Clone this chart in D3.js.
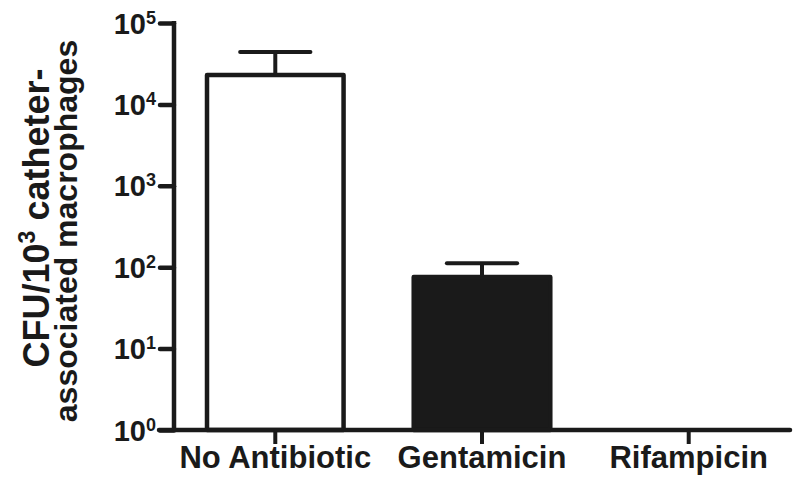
<!DOCTYPE html>
<html>
<head>
<meta charset="utf-8">
<script src="https://cdn.jsdelivr.net/npm/d3@7"></script>
<style>
  body { margin: 0; background: #fff; }
  text { font-family: "Liberation Sans", Arial, sans-serif; font-weight: bold; fill: #1a1a1a; }
</style>
</head>
<body>
<div id="chart"></div>
<script>
// CFU per 10^3 catheter-associated macrophages, by treatment
const categories = ["No Antibiotic", "Gentamicin", "Rifampicin"];
const means      = [23000, 76, 0];
const sems       = [21000, 36, 0];   // upper error bar only
const fills      = ["#ffffff", "#1a1a1a", "#1a1a1a"];
const yTicks     = [0, 1, 2, 3, 4, 5]; // exponents of 10

const width = 800, height = 485;
const ink = "#1a1a1a";

const svg = d3.select("#chart").append("svg")
  .attr("width", width)
  .attr("height", height);

const x = d3.scaleBand()
  .domain(categories)
  .range([174, 790])
  .paddingInner(0.32)
  .paddingOuter(0.15);

const y = d3.scaleLog()
  .domain([1, 1e5])
  .range([430, 23]);

// ── Bars (skip zero values, they sit below the log floor) ──
categories.forEach((c, i) => {
  if (means[i] <= 1) return;
  const bx = x(c) + 2, bw = x.bandwidth() - 4;
  svg.append("rect")
    .attr("x", bx)
    .attr("y", y(means[i]))
    .attr("width", bw)
    .attr("height", y(1) - y(means[i]))
    .attr("fill", fills[i])
    .attr("stroke", ink)
    .attr("stroke-width", 4.5)
    .attr("stroke-linejoin", "round");

  // error bar (upper only)
  const cx = x(c) + x.bandwidth() / 2;
  const top = y(means[i] + sems[i]);
  svg.append("line")
    .attr("x1", cx).attr("x2", cx)
    .attr("y1", y(means[i])).attr("y2", top)
    .attr("stroke", ink).attr("stroke-width", 4);
  svg.append("line")
    .attr("x1", cx - x.bandwidth() / 4).attr("x2", cx + x.bandwidth() / 4)
    .attr("y1", top).attr("y2", top)
    .attr("stroke", ink).attr("stroke-width", 4)
    .attr("stroke-linecap", "round");
});

// ── Y axis ──
const yAxis = d3.axisLeft(y)
  .tickValues(yTicks.map(e => Math.pow(10, e)))
  .tickSize(14)
  .tickPadding(4)
  .tickFormat("");

const gy = svg.append("g")
  .attr("transform", "translate(174,0)")
  .call(yAxis);
gy.select(".domain").remove();
gy.selectAll(".tick line").attr("stroke", ink).attr("stroke-width", 4.5)
  .attr("stroke-linecap", "round");
gy.append("line")
  .attr("x1", 0).attr("x2", 0)
  .attr("y1", y(1e5) - 2).attr("y2", y(1))
  .attr("stroke", ink).attr("stroke-width", 4.5);

// tick labels 10^n
gy.selectAll(".tick").each(function(d) {
  const t = d3.select(this).append("text")
    .attr("x", -18)
    .attr("y", 10)
    .attr("text-anchor", "end")
    .style("font-size", "29px");
  t.append("tspan").text("10");
  t.append("tspan")
    .attr("dy", -10)
    .style("font-size", "18px")
    .text(Math.round(Math.log10(d)));
});

// ── X axis ──
const xAxis = d3.axisBottom(x).tickSize(14).tickPadding(8);
const gx = svg.append("g")
  .attr("transform", "translate(0,430)")
  .call(xAxis);
gx.select(".domain").remove();
gx.append("line")
  .attr("x1", 159).attr("x2", 790)
  .attr("stroke", ink).attr("stroke-width", 4.5)
  .attr("stroke-linecap", "round");
gx.selectAll(".tick line").attr("stroke", ink).attr("stroke-width", 4);
gx.selectAll(".tick text")
  .style("font-size", "31px")
  .attr("fill", ink)
  .attr("y", 38)
  .attr("dy", 0);

// ── Y title ──
const title = svg.append("text")
  .attr("transform", "translate(49,218) rotate(-90)")
  .attr("text-anchor", "middle")
  .style("font-size", "36px");
title.append("tspan").text("CFU/10");
title.append("tspan").attr("dy", -14).style("font-size", "23px").text("3");
title.append("tspan").attr("dy", 14).text(" catheter-");

svg.append("text")
  .attr("transform", "translate(77,231) rotate(-90)")
  .attr("text-anchor", "middle")
  .style("font-size", "32px")
  .text("associated macrophages");
</script>
</body>
</html>
